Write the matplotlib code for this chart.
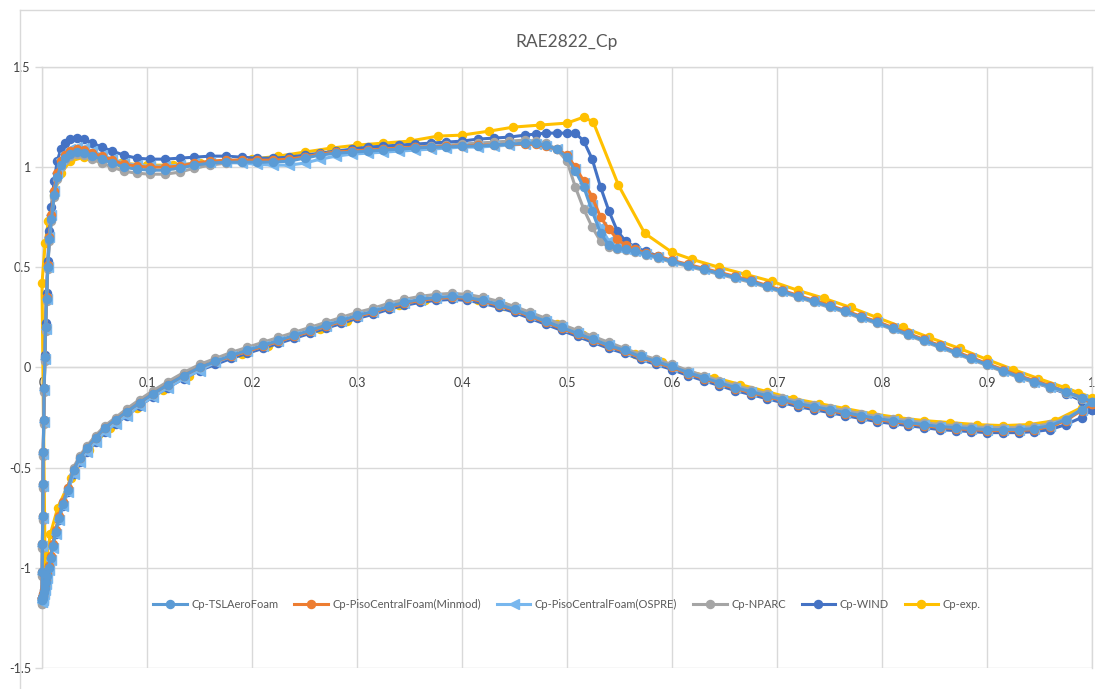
import numpy as np
import matplotlib
matplotlib.use('Agg')
import matplotlib.pyplot as plt
from matplotlib.lines import Line2D

plt.rcParams['font.family'] = ['Lato', 'DejaVu Sans']

# ---------------- data ----------------
title = 'RAE2822_Cp'
series_names = ['Cp-TSLAeroFoam', 'Cp-PisoCentralFoam(Minmod)', 'Cp-PisoCentralFoam(OSPRE)',
                'Cp-NPARC', 'Cp-WIND', 'Cp-exp.']
x_ticks = [0, 0.1, 0.2, 0.3, 0.4, 0.5, 0.6, 0.7, 0.8, 0.9, 1.0]
x_tick_labels = ['0', '0.1', '0.2', '0.3', '0.4', '0.5', '0.6', '0.7', '0.8', '0.9', '1']
y_ticks = [-1.5, -1.0, -0.5, 0.0, 0.5, 1.0, 1.5]
y_tick_labels = ['-1.5', '-1', '-0.5', '0', '0.5', '1', '1.5']

# upper-surface chord positions (CFD), leading edge -> trailing edge
xu = [0.0, 0.0002, 0.0004, 0.0006, 0.0009, 0.0012, 0.0016, 0.0021, 0.0027, 0.0034, 0.0043, 0.0055, 0.007, 0.009, 0.0115, 0.0145,
      0.018, 0.022, 0.027, 0.033, 0.04, 0.048, 0.057, 0.067, 0.078, 0.09,
      0.103, 0.117, 0.131,
      0.145, 0.16, 0.175, 0.19, 0.205, 0.22, 0.235, 0.25, 0.265, 0.28, 0.295, 0.31, 0.325, 0.34, 0.355, 0.37, 0.385, 0.4, 0.415, 0.43, 0.445,
      0.46, 0.47, 0.48, 0.49, 0.5,
      0.508, 0.516, 0.524, 0.532, 0.54, 0.548, 0.556,
      0.565, 0.575, 0.587,
      0.6, 0.615, 0.63, 0.645, 0.66, 0.675, 0.69, 0.705, 0.72, 0.735, 0.75, 0.765, 0.78, 0.795, 0.81, 0.825, 0.84, 0.855, 0.87, 0.885, 0.9, 0.915, 0.93, 0.945, 0.96, 0.975, 0.99,
      1.0]

# lower-surface chord positions (CFD), leading edge -> trailing edge
xl = [0.0, 0.0003, 0.0007, 0.0012, 0.0018, 0.0026, 0.0036, 0.0048, 0.0063, 0.0081, 0.0103, 0.013, 0.0162, 0.02, 0.0245, 0.03, 0.036, 0.043, 0.051, 0.06, 0.07, 0.081, 0.093, 0.106, 0.12, 0.135, 0.15,
      0.165, 0.18, 0.195, 0.21, 0.225, 0.24, 0.255, 0.27, 0.285, 0.3,
      0.315, 0.33, 0.345, 0.36, 0.375, 0.39, 0.405, 0.42, 0.435, 0.45,
      0.465, 0.48, 0.495, 0.51, 0.525, 0.54, 0.555, 0.57, 0.585, 0.6,
      0.615, 0.63, 0.645, 0.66, 0.675, 0.69, 0.705, 0.72, 0.735, 0.75,
      0.765, 0.78, 0.795, 0.81, 0.825, 0.84, 0.855, 0.87, 0.885, 0.9,
      0.915, 0.93, 0.945, 0.96, 0.975, 0.99, 1.0]

tsl_up = [-1.15, -1.02, -0.88, -0.74, -0.58, -0.42, -0.26, -0.1, 0.05, 0.2, 0.34, 0.5, 0.64, 0.74, 0.86, 0.95,
          1.01, 1.045, 1.065, 1.075, 1.07, 1.055, 1.04, 1.02, 1.0, 0.99,
          0.985, 0.985, 0.995,
          1.01, 1.02, 1.025, 1.025, 1.025, 1.025, 1.03, 1.045, 1.06, 1.07, 1.075, 1.08, 1.085, 1.09, 1.095, 1.1, 1.1, 1.105, 1.105, 1.11, 1.115,
          1.12, 1.12, 1.11, 1.09, 1.05,
          0.98, 0.9, 0.78, 0.67, 0.61, 0.595, 0.59,
          0.58, 0.565, 0.55,
          0.53, 0.51, 0.49, 0.47, 0.45, 0.43, 0.405, 0.38, 0.355, 0.33, 0.305, 0.28, 0.25, 0.225, 0.195, 0.165, 0.135, 0.105, 0.075, 0.045, 0.015, -0.015, -0.045, -0.07, -0.095, -0.12, -0.15,
          -0.17]
tsl_lo = [-1.16, -1.16, -1.15, -1.14, -1.12, -1.1, -1.07, -1.04, -1.0, -0.95, -0.89, -0.82, -0.75, -0.68, -0.61, -0.51, -0.45, -0.4, -0.35, -0.3, -0.26, -0.22, -0.175, -0.13, -0.085, -0.04, 0.0,
          0.03, 0.06, 0.085, 0.11, 0.135, 0.16, 0.185, 0.21, 0.235, 0.26,
          0.28, 0.305, 0.325, 0.34, 0.35, 0.355, 0.35, 0.335, 0.315, 0.29,
          0.26, 0.23, 0.2, 0.17, 0.14, 0.11, 0.085, 0.055, 0.03, 0.005,
          -0.025, -0.05, -0.075, -0.1, -0.12, -0.14, -0.16, -0.18, -0.195, -0.21,
          -0.225, -0.24, -0.255, -0.265, -0.275, -0.285, -0.295, -0.3, -0.305, -0.31,
          -0.31, -0.31, -0.305, -0.29, -0.26, -0.21, -0.17]

minmod_up = [-1.15, -1.02, -0.88, -0.74, -0.58, -0.42, -0.26, -0.1, 0.05, 0.2, 0.35, 0.51, 0.65, 0.76, 0.88, 0.97,
             1.03, 1.06, 1.08, 1.09, 1.085, 1.07, 1.055, 1.035, 1.015, 1.005,
             1.0, 1.0, 1.005,
             1.02, 1.03, 1.035, 1.035, 1.035, 1.035, 1.04, 1.05, 1.065, 1.075, 1.08, 1.085, 1.09, 1.095, 1.1, 1.1, 1.105, 1.105, 1.11, 1.11, 1.115,
             1.115, 1.115, 1.105, 1.09, 1.06,
             1.0, 0.93, 0.85, 0.75, 0.69, 0.64, 0.61,
             0.59, 0.57, 0.555,
             0.535, 0.515, 0.495, 0.475, 0.455, 0.435, 0.41, 0.385, 0.36, 0.335, 0.31, 0.285, 0.255, 0.23, 0.2, 0.17, 0.14, 0.11, 0.08, 0.05, 0.02, -0.01, -0.04, -0.065, -0.09, -0.12, -0.15,
             -0.18]
minmod_lo = [-1.15, -1.15, -1.14, -1.13, -1.11, -1.09, -1.06, -1.03, -0.99, -0.94, -0.88, -0.81, -0.74, -0.67, -0.6, -0.51, -0.45, -0.4, -0.35, -0.3, -0.26, -0.22, -0.175, -0.13, -0.085, -0.04, 0.0,
             0.03, 0.055, 0.08, 0.105, 0.13, 0.155, 0.18, 0.205, 0.23, 0.255,
             0.275, 0.3, 0.32, 0.335, 0.345, 0.35, 0.345, 0.33, 0.31, 0.285,
             0.255, 0.225, 0.195, 0.165, 0.135, 0.105, 0.08, 0.05, 0.025, 0.0,
             -0.03, -0.055, -0.08, -0.105, -0.125, -0.145, -0.165, -0.185, -0.2, -0.215,
             -0.23, -0.245, -0.26, -0.27, -0.28, -0.29, -0.3, -0.305, -0.31, -0.315,
             -0.315, -0.315, -0.31, -0.295, -0.265, -0.215, -0.18]

ospre_up = [-1.16, -1.03, -0.89, -0.75, -0.59, -0.43, -0.27, -0.11, 0.04, 0.19, 0.34, 0.5, 0.65, 0.76, 0.88, 0.97,
            1.04, 1.07, 1.09, 1.1, 1.095, 1.08, 1.06, 1.04, 1.02, 1.01,
            1.005, 1.005, 1.01,
            1.02, 1.025, 1.025, 1.02, 1.015, 1.01, 1.01, 1.02, 1.04, 1.055, 1.065, 1.07, 1.075, 1.08, 1.085, 1.09, 1.095, 1.1, 1.1, 1.105, 1.11,
            1.115, 1.115, 1.105, 1.09, 1.06,
            0.99, 0.92, 0.81, 0.7, 0.63, 0.6, 0.59,
            0.58, 0.565, 0.55,
            0.53, 0.51, 0.49, 0.47, 0.45, 0.43, 0.405, 0.38, 0.355, 0.33, 0.305, 0.28, 0.25, 0.225, 0.195, 0.165, 0.135, 0.105, 0.075, 0.045, 0.015, -0.015, -0.045, -0.07, -0.095, -0.125, -0.155,
            -0.17]
ospre_lo = [-1.17, -1.17, -1.16, -1.15, -1.13, -1.11, -1.08, -1.05, -1.01, -0.96, -0.9, -0.83, -0.76, -0.69, -0.62, -0.53, -0.47, -0.42, -0.37, -0.32, -0.28, -0.24, -0.19, -0.145, -0.1, -0.055, -0.015,
            0.025, 0.055, 0.08, 0.105, 0.13, 0.155, 0.18, 0.205, 0.23, 0.255,
            0.275, 0.3, 0.32, 0.335, 0.345, 0.35, 0.35, 0.335, 0.315, 0.29,
            0.26, 0.23, 0.2, 0.17, 0.14, 0.11, 0.08, 0.05, 0.025, 0.0,
            -0.025, -0.05, -0.075, -0.1, -0.12, -0.14, -0.16, -0.18, -0.195, -0.21,
            -0.225, -0.24, -0.255, -0.265, -0.275, -0.285, -0.295, -0.3, -0.305, -0.31,
            -0.31, -0.31, -0.305, -0.29, -0.26, -0.21, -0.17]

nparc_up = [-1.17, -1.04, -0.9, -0.76, -0.6, -0.44, -0.28, -0.12, 0.03, 0.18, 0.33, 0.49, 0.63, 0.73, 0.85, 0.94,
            1.0, 1.035, 1.055, 1.065, 1.06, 1.04, 1.02, 1.0, 0.98, 0.97,
            0.965, 0.965, 0.975,
            0.995, 1.01, 1.02, 1.025, 1.03, 1.03, 1.035, 1.05, 1.065, 1.075, 1.08, 1.085, 1.09, 1.095, 1.1, 1.105, 1.11, 1.115, 1.12, 1.125, 1.13,
            1.135, 1.13, 1.12, 1.09, 1.03,
            0.9, 0.79, 0.7, 0.63, 0.6, 0.59, 0.585,
            0.575, 0.56, 0.545,
            0.525, 0.505, 0.485, 0.465, 0.445, 0.425, 0.4, 0.375, 0.35, 0.325, 0.3, 0.275, 0.245, 0.22, 0.19, 0.16, 0.13, 0.1, 0.07, 0.04, 0.01, -0.02, -0.05, -0.075, -0.1, -0.125, -0.155,
            -0.17]
nparc_lo = [-1.18, -1.18, -1.17, -1.16, -1.14, -1.11, -1.08, -1.04, -1.0, -0.95, -0.89, -0.82, -0.75, -0.67, -0.6, -0.5, -0.44, -0.39, -0.34, -0.29, -0.25, -0.205, -0.16, -0.115, -0.07, -0.025, 0.015,
            0.045, 0.075, 0.1, 0.125, 0.15, 0.175, 0.2, 0.225, 0.25, 0.275,
            0.295, 0.32, 0.34, 0.355, 0.365, 0.37, 0.365, 0.35, 0.33, 0.305,
            0.275, 0.245, 0.215, 0.185, 0.155, 0.125, 0.095, 0.065, 0.04, 0.015,
            -0.015, -0.04, -0.065, -0.09, -0.11, -0.13, -0.15, -0.17, -0.185, -0.2,
            -0.215, -0.23, -0.245, -0.255, -0.265, -0.275, -0.285, -0.29, -0.295, -0.3,
            -0.3, -0.3, -0.295, -0.28, -0.255, -0.21, -0.17]

wind_up = [-1.15, -1.02, -0.88, -0.74, -0.58, -0.42, -0.26, -0.1, 0.06, 0.22, 0.37, 0.53, 0.68, 0.8, 0.93, 1.03,
           1.09, 1.12, 1.14, 1.145, 1.14, 1.12, 1.1, 1.08, 1.06, 1.045,
           1.04, 1.04, 1.045,
           1.05, 1.055, 1.055, 1.05, 1.045, 1.045, 1.05, 1.06, 1.07, 1.08, 1.09, 1.1, 1.105, 1.11, 1.115, 1.12, 1.125, 1.13, 1.14, 1.145, 1.15,
           1.16, 1.165, 1.17, 1.17, 1.17,
           1.17, 1.13, 1.04, 0.9, 0.78, 0.68, 0.63,
           0.6, 0.58, 0.555,
           0.53, 0.51, 0.49, 0.47, 0.45, 0.43, 0.405, 0.38, 0.355, 0.33, 0.305, 0.28, 0.25, 0.225, 0.195, 0.165, 0.135, 0.105, 0.075, 0.045, 0.015, -0.015, -0.045, -0.075, -0.1, -0.13, -0.165,
           -0.21]
wind_lo = [-1.15, -1.15, -1.14, -1.13, -1.11, -1.09, -1.06, -1.03, -0.99, -0.95, -0.89, -0.83, -0.76, -0.69, -0.62, -0.53, -0.47, -0.42, -0.37, -0.32, -0.28, -0.24, -0.19, -0.145, -0.1, -0.055, -0.015,
           0.015, 0.045, 0.07, 0.095, 0.12, 0.145, 0.17, 0.195, 0.22, 0.245,
           0.265, 0.29, 0.31, 0.325, 0.335, 0.34, 0.335, 0.32, 0.3, 0.275,
           0.245, 0.215, 0.185, 0.155, 0.125, 0.095, 0.07, 0.04, 0.015, -0.01,
           -0.04, -0.065, -0.09, -0.115, -0.135, -0.155, -0.175, -0.195, -0.21, -0.225,
           -0.24, -0.255, -0.27, -0.28, -0.29, -0.3, -0.31, -0.315, -0.32, -0.325,
           -0.325, -0.325, -0.32, -0.31, -0.285, -0.25, -0.21]

# experiment
exp_x_up = [0.0, 0.003, 0.006, 0.011, 0.018, 0.027, 0.04, 0.055, 0.075, 0.1,
            0.125, 0.15, 0.175, 0.2, 0.225, 0.25, 0.275, 0.3, 0.325, 0.35,
            0.377, 0.4, 0.426, 0.449, 0.474, 0.5, 0.516, 0.525, 0.549, 0.574,
            0.6, 0.619, 0.645, 0.67, 0.695, 0.72, 0.745, 0.77, 0.795, 0.82,
            0.845, 0.874, 0.9, 0.925, 0.949, 0.974, 0.987, 1.0]
exp_cp_up = [0.42, 0.62, 0.73, 0.86, 0.97, 1.03, 1.05, 1.04, 1.02, 1.01,
             1.01, 1.02, 1.03, 1.04, 1.055, 1.075, 1.095, 1.11, 1.12, 1.13,
             1.155, 1.16, 1.18, 1.2, 1.21, 1.22, 1.25, 1.225, 0.91, 0.67,
             0.575, 0.54, 0.5, 0.465, 0.43, 0.385, 0.345, 0.3, 0.25, 0.2,
             0.15, 0.095, 0.04, -0.01, -0.055, -0.1, -0.125, -0.15]
exp_x_lo = [0.003, 0.008, 0.015, 0.028, 0.045, 0.065, 0.09, 0.115, 0.14, 0.165,
            0.19, 0.215, 0.24, 0.265, 0.29, 0.315, 0.34, 0.365, 0.39, 0.415,
            0.44, 0.465, 0.49, 0.515, 0.54, 0.565, 0.59, 0.615, 0.64, 0.665,
            0.69, 0.715, 0.74, 0.765, 0.79, 0.815, 0.84, 0.865, 0.89, 0.915,
            0.94, 0.965, 0.99]
exp_cp_lo = [-1.0, -0.83, -0.7, -0.55, -0.41, -0.3, -0.2, -0.11, -0.04, 0.025,
             0.065, 0.105, 0.15, 0.19, 0.23, 0.27, 0.31, 0.335, 0.345, 0.335,
             0.305, 0.265, 0.215, 0.16, 0.115, 0.065, 0.025, -0.02, -0.05, -0.085,
             -0.12, -0.155, -0.18, -0.205, -0.23, -0.25, -0.265, -0.275, -0.285, -0.29,
             -0.285, -0.265, -0.2]

colors = ['#5B9BD5', '#ED7D31', '#78B7EE', '#A5A5A5', '#4472C4', '#FFC000']
markers = ['o', 'o', '<', 'o', 'o', 'o']

# ---------------- figure ----------------
W, H = 1095, 689
fig = plt.figure(figsize=(W / 100, H / 100), dpi=100)
fig.patch.set_facecolor('white')

# outer chart-area border lines
fig.add_artist(Line2D([20.5 / W, 20.5 / W], [0, 1 - 9.5 / H], transform=fig.transFigure, color='#d9d9d9', lw=1.0))
fig.add_artist(Line2D([20.5 / W, 1], [1 - 9.5 / H, 1 - 9.5 / H], transform=fig.transFigure, color='#d9d9d9', lw=1.0))

ax = fig.add_axes([42 / W, 21 / H, 1050 / W, 601 / H])
ax.set_xlim(0, 1)
ax.set_ylim(-1.5, 1.5)

cfd = [(tsl_up, tsl_lo), (minmod_up, minmod_lo), (ospre_up, ospre_lo), (nparc_up, nparc_lo), (wind_up, wind_lo)]
zorders = [10, 9, 8, 7, 6, 5]
handles = []
for i, (up, lo) in enumerate(cfd):
    xs = np.concatenate([np.array(xu)[::-1], np.array(xl)])
    ys = np.concatenate([np.array(up)[::-1], np.array(lo)])
    ms = 6.5 if markers[i] == '<' else 5.8
    h, = ax.plot(xs, ys, color=colors[i], lw=2.2, marker=markers[i], ms=ms,
                 mec=colors[i], mfc=colors[i], zorder=zorders[i], clip_on=False,
                 label=series_names[i])
    handles.append(h)

ex = np.concatenate([np.array(exp_x_up)[::-1], np.array(exp_x_lo)])
ey = np.concatenate([np.array(exp_cp_up)[::-1], np.array(exp_cp_lo)])
h, = ax.plot(ex, ey, color=colors[5], lw=2.2, marker='o', ms=5.8, mec=colors[5], mfc=colors[5],
             zorder=zorders[5], clip_on=False, label=series_names[5])
handles.append(h)

# axes styling
grid_c = '#d9d9d9'
ax.set_xticks(x_ticks)
ax.set_xticklabels(x_tick_labels)
ax.set_yticks(y_ticks)
ax.set_yticklabels(y_tick_labels)
ax.grid(True, color=grid_c, lw=1.0, zorder=0)
ax.set_axisbelow(True)
for s in ['top', 'right', 'left', 'bottom']:
    ax.spines[s].set_color(grid_c)
    ax.spines[s].set_linewidth(1.0)
ax.spines['bottom'].set_position(('data', 0))
ax.tick_params(axis='x', length=0, pad=7, labelsize=9, labelcolor='#404040')
ax.tick_params(axis='y', length=5, width=1.0, color=grid_c, pad=3, labelsize=9, labelcolor='#404040')

fig.text(567 / W, 1 - 42 / H, title, ha='center', va='center', fontsize=12.5, color='#595959')

leg = ax.legend(handles=handles, ncol=6, loc='center', bbox_to_anchor=(567 / W, 1 - 604 / H),
                bbox_transform=fig.transFigure, frameon=False, fontsize=8.0,
                handlelength=3.0, handletextpad=0.4, columnspacing=1.45, labelcolor='#595959')
leg.set_zorder(20)

fig.savefig('out.png', dpi=100, facecolor='white')
